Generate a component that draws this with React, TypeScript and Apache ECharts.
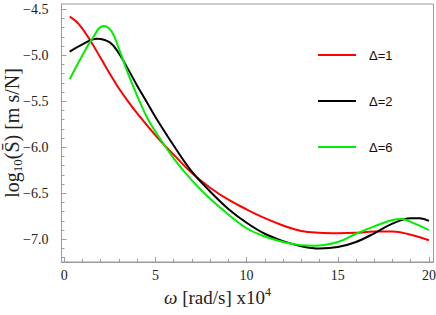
import React, { useEffect, useRef } from "react";
import * as echarts from "echarts";

const omegaDelta1 = [0.3, 0.8, 1.4, 2, 2.5, 3, 3.5, 4, 5, 6, 7, 8, 9, 10, 11, 12, 13, 14, 15, 16, 17, 18, 19, 20];
const logSDelta1 = [-4.58, -4.66, -4.83, -5.03, -5.2, -5.36, -5.5, -5.63, -5.87, -6.08, -6.28, -6.44, -6.57, -6.675, -6.77, -6.85, -6.91, -6.93, -6.935, -6.93, -6.915, -6.915, -6.95, -7.01];

const omegaDelta2 = [0.3, 1, 1.8, 2.5, 3, 3.5, 4, 4.5, 5, 6, 7, 8, 9, 10, 11, 12, 13, 14, 15, 16, 17, 18, 19, 19.5, 20];
const logSDelta2 = [-4.96, -4.88, -4.82, -4.86, -4.98, -5.15, -5.33, -5.5, -5.67, -5.98, -6.265, -6.48, -6.67, -6.82, -6.94, -7.02, -7.075, -7.1, -7.085, -7.03, -6.935, -6.83, -6.77, -6.77, -6.8];

const omegaDelta6 = [0.3, 1, 1.5, 2.15, 2.6, 3, 3.5, 4, 4.5, 5, 6, 7, 8, 9, 10, 11, 12, 13, 13.7, 15, 16, 17, 18, 18.5, 19, 20];
const logSDelta6 = [-5.26, -5.0, -4.83, -4.68, -4.74, -4.93, -5.2, -5.44, -5.66, -5.83, -6.12, -6.36, -6.56, -6.73, -6.88, -6.97, -7.03, -7.065, -7.07, -7.03, -6.94, -6.86, -6.79, -6.78, -6.81, -6.9];

const seriesNames = ["Δ=1", "Δ=2", "Δ=6"];
const seriesColors = ["#ff0000", "#000000", "#00ee00"];

const xMajorTicks = [0, 5, 10, 15, 20];
const xMinorTicks = [1, 2, 3, 4, 6, 7, 8, 9, 11, 12, 13, 14, 16, 17, 18, 19];
const yMajorTicks = [-7.0, -6.5, -6.0, -5.5, -5.0, -4.5];
const yMinorTicks = [-7.2, -7.1, -6.9, -6.8, -6.7, -6.6, -6.4, -6.3, -6.2, -6.1, -5.9, -5.8, -5.7, -5.6, -5.4, -5.3, -5.2, -5.1, -4.9, -4.8, -4.7, -4.6];

const X_MIN = -0.15;
const X_MAX = 20.25;
const Y_MIN = -7.247;
const Y_MAX = -4.442;

const FRAME = "#9a9a9a";
const SERIF = "Liberation Serif";
const SANS = "Liberation Sans";

export default function App() {
  const ref = useRef<HTMLDivElement>(null);
  useEffect(() => {
    if (!ref.current) return;
    const chart = echarts.init(ref.current, undefined, { renderer: "svg" });
    const fmtY = (v: number) => (v < 0 ? "−" : "") + Math.abs(v).toFixed(1);
    const fmtX = (v: number) => String(Math.round(v));
    const xs = [omegaDelta1, omegaDelta2, omegaDelta6];
    const ys = [logSDelta1, logSDelta2, logSDelta6];
    const labelStyle = { fontFamily: SERIF, fontSize: 14, fontWeight: "normal", fontStyle: "normal", color: "#222" };
    chart.setOption({
      animation: false,
      backgroundColor: "#ffffff",
      textStyle: { fontFamily: SERIF },
      grid: {
        left: 61.5,
        right: 2.5,
        top: 4,
        bottom: 53,
        containLabel: false,
        outerBoundsMode: "none",
        show: true,
        borderColor: FRAME,
        borderWidth: 1,
        backgroundColor: "transparent",
      },
      legend: {
        orient: "vertical",
        left: 318,
        top: 48,
        itemWidth: 38,
        itemHeight: 2,
        itemGap: 32,
        icon: "rect",
        padding: 0,
        textStyle: { fontFamily: SANS, fontSize: 13, color: "#111", padding: [0, 0, 0, 8], lineHeight: 14 },
        data: seriesNames,
      },
      xAxis: [
        {
          type: "value",
          min: X_MIN,
          max: X_MAX,
          position: "bottom",
          axisLine: { show: true, onZero: false, lineStyle: { color: FRAME, width: 1 } },
          axisTick: { show: true, inside: true, length: 5, customValues: xMajorTicks, lineStyle: { color: FRAME } },
          axisLabel: { ...labelStyle, customValues: xMajorTicks, margin: 6, formatter: fmtX },
          splitLine: { show: false },
          name: "{i|ω} [rad/s] x10{sup|4}",
          nameLocation: "middle",
          nameMoveOverlap: false,
          nameGap: 24,
          nameTextStyle: {
            fontFamily: SERIF,
            fontSize: 19,
            color: "#222",
            padding: [0, 60, 0, 0],
            rich: {
              i: { fontFamily: SERIF, fontSize: 19, fontStyle: "italic", color: "#222" },
              sup: { fontFamily: SERIF, fontSize: 12, color: "#222", padding: [0, 0, 10, 0] },
            },
          },
        },
        {
          type: "value",
          min: X_MIN,
          max: X_MAX,
          position: "bottom",
          axisLine: { show: false, onZero: false },
          axisTick: { show: true, inside: true, length: 3, customValues: xMinorTicks, lineStyle: { color: FRAME } },
          axisLabel: { show: false },
          splitLine: { show: false },
        },
      ],
      yAxis: [
        {
          type: "value",
          min: Y_MIN,
          max: Y_MAX,
          position: "left",
          axisLine: { show: true, onZero: false, lineStyle: { color: FRAME, width: 1 } },
          axisTick: { show: true, inside: true, length: 5, customValues: yMajorTicks, lineStyle: { color: FRAME } },
          axisLabel: { ...labelStyle, customValues: yMajorTicks, margin: 13, formatter: fmtY },
          splitLine: { show: false },
          name: "log{sub|10}(S̄) [m s/N]",
          nameLocation: "middle",
          nameRotate: 90,
          nameMoveOverlap: false,
          nameGap: 38,
          nameTextStyle: {
            fontFamily: SERIF,
            fontSize: 20,
            color: "#222",
            rich: {
              sub: { fontFamily: SERIF, fontSize: 13, color: "#222", padding: [10, 0, 0, 0] },
            },
          },
        },
        {
          type: "value",
          min: Y_MIN,
          max: Y_MAX,
          position: "left",
          axisLine: { show: false, onZero: false },
          axisTick: { show: true, inside: true, length: 3, customValues: yMinorTicks, lineStyle: { color: FRAME } },
          axisLabel: { show: false },
          splitLine: { show: false },
        },
      ],
      series: seriesNames.map((name, k) => ({
        name,
        type: "line",
        xAxisIndex: 0,
        yAxisIndex: 0,
        smooth: 0.4,
        showSymbol: false,
        symbol: "none",
        lineStyle: { color: seriesColors[k], width: 2 },
        itemStyle: { color: seriesColors[k] },
        data: xs[k].map((x, i) => [x, ys[k][i]]),
      })),
    });
    return () => chart.dispose();
  }, []);
  return <div ref={ref} style={{ position: "fixed", left: 0, top: 0, width: 436, height: 315 }} />;
}
